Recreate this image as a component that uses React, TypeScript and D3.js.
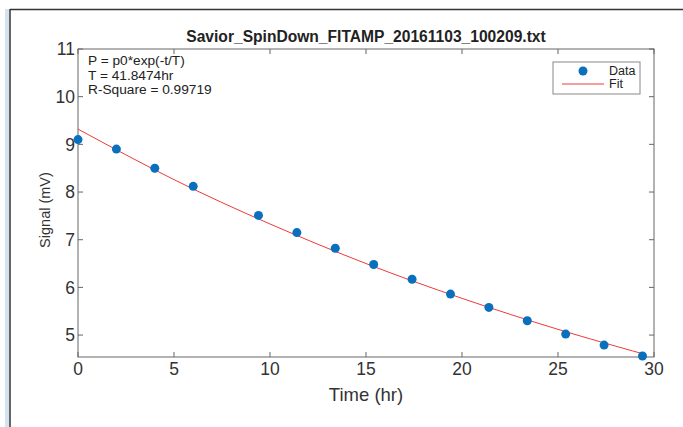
import React, { useEffect, useRef } from 'react';
import * as d3 from 'd3';

const W = 683;
const H = 427;
const margin = { top: 49, right: 29, bottom: 70, left: 78 };

// measured points
const times = [0, 2, 4, 6, 9.4, 11.4, 13.4, 15.4, 17.4, 19.4, 21.4, 23.4, 25.4, 27.4, 29.4];
const signal = [9.1, 8.9, 8.5, 8.12, 7.51, 7.15, 6.82, 6.48, 6.17, 5.86, 5.58, 5.3, 5.02, 4.79, 4.56];

// fit curve
const fitTimes = [0, 5, 10, 15, 20, 25, 29.4];
const fitValues = [9.32, 8.26, 7.33, 6.5, 5.77, 5.12, 4.61];

const xTicks = [0, 5, 10, 15, 20, 25, 30];
const yTicks = [5, 6, 7, 8, 9, 10, 11];

const title = 'Savior_SpinDown_FITAMP_20161103_100209.txt';
const notes = ['P = p0*exp(-t/T)', 'T = 41.8474hr', 'R-Square = 0.99719'];

const FONT = 'Liberation Sans, Arial, Helvetica, sans-serif';
const DOT = '#0a6fbd';
const FIT = '#ee3a3a';
const AXIS = '#666';
const TXT = '#333';

const App = () => {
  const ref = useRef<SVGSVGElement>(null);

  useEffect(() => {
    const svg = d3.select(ref.current);
    svg.selectAll('*').remove();

    const innerW = W - margin.left - margin.right;
    const innerH = H - margin.top - margin.bottom;

    const x = d3.scaleLinear().domain([0, 30]).range([0, innerW]);
    const y = d3.scaleLinear().domain([4.54, 11]).range([innerH, 0]);

    // window frame
    svg.append('rect').attr('x', 5).attr('y', 9).attr('width', 4).attr('height', H).attr('fill', '#d4e3f2');
    svg.append('line').attr('x1', 10).attr('x2', 10).attr('y1', 9).attr('y2', H).attr('stroke', '#333').attr('stroke-width', 1.5);
    svg.append('line').attr('x1', 10).attr('x2', W).attr('y1', 9.5).attr('y2', 9.5).attr('stroke', '#333').attr('stroke-width', 1.5);

    const g = svg.append('g').attr('transform', `translate(${margin.left},${margin.top})`);

    // box
    g.append('rect')
      .attr('width', innerW)
      .attr('height', innerH)
      .attr('fill', 'white')
      .attr('stroke', AXIS)
      .attr('stroke-width', 1);

    // ticks, inward on all sides
    const tl = 5;
    xTicks.forEach(t => {
      g.append('line').attr('x1', x(t)).attr('x2', x(t)).attr('y1', innerH).attr('y2', innerH - tl).attr('stroke', AXIS);
      g.append('line').attr('x1', x(t)).attr('x2', x(t)).attr('y1', 0).attr('y2', tl).attr('stroke', AXIS);
      g.append('text')
        .attr('x', x(t))
        .attr('y', innerH + 18)
        .attr('text-anchor', 'middle')
        .attr('font-size', 17.5)
        .attr('fill', TXT)
        .attr('font-family', FONT)
        .text(t);
    });
    yTicks.forEach(t => {
      g.append('line').attr('x1', 0).attr('x2', tl).attr('y1', y(t)).attr('y2', y(t)).attr('stroke', AXIS);
      g.append('line').attr('x1', innerW).attr('x2', innerW - tl).attr('y1', y(t)).attr('y2', y(t)).attr('stroke', AXIS);
      g.append('text')
        .attr('x', -3)
        .attr('y', y(t))
        .attr('dy', '0.36em')
        .attr('text-anchor', 'end')
        .attr('font-size', 17.5)
        .attr('fill', TXT)
        .attr('font-family', FONT)
        .text(t);
    });

    // fit line
    const line = d3.line<number>()
      .x((_, i) => x(fitTimes[i]))
      .y(d => y(d))
      .curve(d3.curveNatural);
    g.append('path')
      .attr('d', line(fitValues))
      .attr('fill', 'none')
      .attr('stroke', FIT)
      .attr('stroke-width', 1);

    // data points
    g.selectAll('.dot')
      .data(signal)
      .enter()
      .append('circle')
      .attr('class', 'dot')
      .attr('cx', (_, i) => x(times[i]))
      .attr('cy', d => y(d))
      .attr('r', 4.5)
      .attr('fill', DOT);

    // fit info
    notes.forEach((n, i) => {
      g.append('text')
        .attr('x', 10)
        .attr('y', 16 + i * 14.5)
        .attr('font-size', 13.7)
        .attr('fill', '#222')
        .attr('font-family', FONT)
        .text(n);
    });

    // legend
    const lg = g.append('g').attr('transform', `translate(${553 - margin.left},${62 - margin.top})`);
    lg.append('rect').attr('width', 87).attr('height', 32).attr('fill', 'white').attr('stroke', '#888');
    lg.append('circle').attr('cx', 30).attr('cy', 9).attr('r', 4.5).attr('fill', DOT);
    lg.append('line').attr('x1', 9).attr('x2', 51).attr('y1', 22).attr('y2', 22).attr('stroke', FIT).attr('stroke-width', 1);
    lg.append('text').attr('x', 56).attr('y', 13).attr('font-size', 12.5).attr('fill', '#222').attr('font-family', FONT).text('Data');
    lg.append('text').attr('x', 56).attr('y', 26).attr('font-size', 12.5).attr('fill', '#222').attr('font-family', FONT).text('Fit');

    // title and axis labels
    svg.append('text')
      .attr('x', margin.left + innerW / 2)
      .attr('y', 42)
      .attr('text-anchor', 'middle')
      .attr('font-size', 15.6)
      .attr('font-weight', 'bold')
      .attr('fill', '#222')
      .attr('font-family', FONT)
      .text(title);
    svg.append('text')
      .attr('x', margin.left + innerW / 2)
      .attr('y', 401)
      .attr('text-anchor', 'middle')
      .attr('font-size', 18.5)
      .attr('fill', TXT)
      .attr('font-family', FONT)
      .text('Time (hr)');
    svg.append('text')
      .attr('transform', `translate(50,${margin.top + innerH / 2 + 7}) rotate(-90)`)
      .attr('text-anchor', 'middle')
      .attr('font-size', 14.5)
      .attr('fill', TXT)
      .attr('font-family', FONT)
      .text('Signal (mV)');
  }, []);

  return (
    <svg
      ref={ref}
      width={W}
      height={H}
      style={{ position: 'absolute', left: 0, top: 0, background: 'white' }}
    />
  );
};

export default App;
